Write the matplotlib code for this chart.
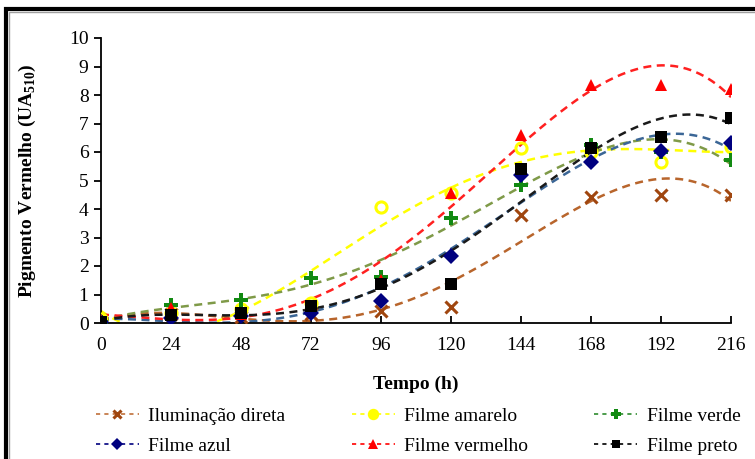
import numpy as np
import matplotlib
matplotlib.use("Agg")
import matplotlib.pyplot as plt
from matplotlib.lines import Line2D
from matplotlib.patches import Rectangle

plt.rcParams['font.family'] = ['Liberation Serif', 'DejaVu Serif']
plt.rcParams['mathtext.fontset'] = 'custom'
plt.rcParams['mathtext.rm'] = 'Liberation Serif'
plt.rcParams['mathtext.bf'] = 'Liberation Serif:bold'

hours = [0, 24, 48, 72, 96, 120, 144, 168, 192, 216]
x_ticks = [0, 24, 48, 72, 96, 120, 144, 168, 192, 216]
y_ticks = [0, 1, 2, 3, 4, 5, 6, 7, 8, 9, 10]

ilum_direta = [0.05, 0.30, 0.20, 0.30, 0.43, 0.55, 3.79, 4.43, 4.50, 4.48]
filme_amarelo = [0.15, 0.35, 0.50, 0.70, 4.08, 4.55, 6.13, 6.00, 5.66, 6.19]
filme_verde = [0.05, 0.63, 0.81, 1.59, 1.62, 3.69, 4.85, 6.25, 6.00, 5.72]
filme_azul = [0.05, 0.19, 0.23, 0.34, 0.77, 2.35, 5.20, 5.66, 6.03, 6.33]
filme_vermelho = [0.10, 0.52, 0.30, 0.60, 1.50, 4.57, 6.60, 8.35, 8.35, 8.20]
filme_preto = [0.05, 0.28, 0.34, 0.60, 1.36, 1.38, 5.40, 6.13, 6.54, 7.20]

labels = ["Iluminação direta", "Filme amarelo", "Filme verde",
          "Filme azul", "Filme vermelho", "Filme preto"]

# (values, marker, marker colour, trend colour, marker kwargs)
series = [
    (ilum_direta, 'x', '#A0460F', '#B8652C', dict(ms=8, mew=2.2)),
    (filme_amarelo, 'o', '#FFFF00', '#FFFF00', dict(ms=8, mew=2.2, mfc='none')),
    (filme_verde, 'P', '#128A12', '#7F9A48', dict(ms=10, mew=0)),
    (filme_azul, 'D', '#00007F', '#3B6696', dict(ms=8, mew=0)),
    (filme_vermelho, '^', '#FF0000', '#FF2020', dict(ms=9, mew=0)),
    (filme_preto, 's', '#000000', '#1A1A1A', dict(ms=8, mew=0)),
]
legend_line_colors = ['#C0703A', '#FFFF00', '#2E8B2E', '#00007F', '#FF0000', '#000000']

fig = plt.figure(figsize=(7.55, 4.59), dpi=100)
ax = fig.add_axes([101 / 755, 1 - 323 / 459, 630 / 755, 285 / 459])

xs = np.linspace(0, 216, 300)
handles = []
for (vals, mk, mc, tc, kw), lab, lc in zip(series, labels, legend_line_colors):
    # 4th-order polynomial trend line for each series
    coef = np.polyfit(hours, vals, 4)
    ax.plot(xs, np.polyval(coef, xs), ls=(0, (3.2, 2.2)), lw=1.8, color=tc, zorder=2)
    ax.plot(hours, vals, ls='none', marker=mk, color=mc, mec=mc, zorder=3, **kw)
    hkw = {k: v for k, v in kw.items() if k != 'mfc'}
    hkw['ms'] = kw['ms'] * 0.75
    handles.append(Line2D([], [], ls=(0, (2.5, 2.5)), lw=1.2, color=lc,
                          marker=mk, mec=mc, mfc=mc, **hkw))

ax.set_xlim(0, 216)
ax.set_ylim(0, 10)
ax.set_xticks(x_ticks)
ax.set_yticks(y_ticks)
ax.spines['top'].set_visible(False)
ax.spines['right'].set_visible(False)
for s in ('left', 'bottom'):
    ax.spines[s].set_linewidth(1.3)
ax.tick_params(axis='x', direction='in', length=5, width=1.3, labelsize=14, pad=10)
ax.tick_params(axis='y', direction='out', length=5, width=1.3, labelsize=14, pad=4)

ax.set_xlabel("Tempo (h)", fontsize=14, fontweight='bold', labelpad=16)
ax.set_ylabel(r"Pigmento Vermelho (UA$_{\mathbf{510}}$)", fontsize=14,
              fontweight='bold', labelpad=22)

# column-wise ordering so rows read left-to-right
order = [0, 3, 1, 4, 2, 5]
fig.legend([handles[i] for i in order], [labels[i] for i in order],
           ncol=3, loc='center left', bbox_to_anchor=(96 / 755, 1 - 431 / 459),
           frameon=False, fontsize=14, handlelength=2.2, handletextpad=0.5,
           columnspacing=3.4, labelspacing=0.62, borderaxespad=0, borderpad=0)

# outer frame of the figure
fig.patches.append(Rectangle((6 / 755, -0.1), 1.2, 1 - 9 / 459 + 0.1,
                             transform=fig.transFigure, fill=False,
                             ec='black', lw=3, zorder=10))
fig.patches.append(Rectangle((9 / 755, -0.1), 1.2, 1 - 12 / 459 + 0.1,
                             transform=fig.transFigure, fill=False,
                             ec='#A0A0A0', lw=1, zorder=10))

fig.savefig("out.png", dpi=100)
